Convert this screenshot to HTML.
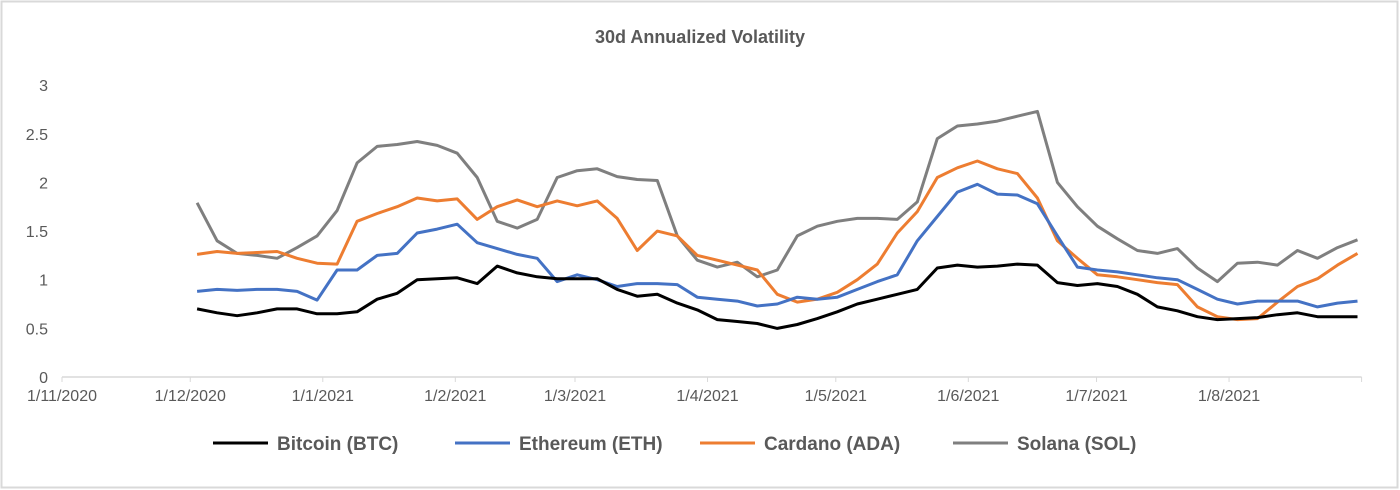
<!DOCTYPE html>
<html><head><meta charset="utf-8"><style>
html,body{margin:0;padding:0;background:#fff;}
svg{display:block;font-family:"Liberation Sans",Arial,sans-serif;}
</style></head><body>
<svg id="chart" width="1400" height="490" viewBox="0 0 1400 490">
<rect x="1.5" y="1.5" width="1396" height="486" fill="#fff" stroke="#d9d9d9" stroke-width="2"/>
<text x="700" y="43" text-anchor="middle" font-size="18" font-weight="bold" fill="#595959">30d Annualized Volatility</text>
<g id="yaxis"></g>
<g id="xaxis"></g>
<g id="series"></g>
<g id="legend"></g>
</svg>
<script>
const yTicks = [0, 0.5, 1, 1.5, 2, 2.5, 3];
const yTickLabels = ["0", "0.5", "1", "1.5", "2", "2.5", "3"];
const xTickDays = [0, 30, 61, 92, 120, 151, 181, 212, 242, 273, 304];
const xTickLabels = ["1/11/2020", "1/12/2020", "1/1/2021", "1/2/2021", "1/3/2021", "1/4/2021", "1/5/2021", "1/6/2021", "1/7/2021", "1/8/2021", ""];
const startDay = 31.6;
const dayStep = 4.68;
const btc = [.70,.66,.63,.66,.70,.70,.65,.65,.67,.80,.86,1.00,1.01,1.02,.96,1.14,1.07,1.03,
 1.01,1.01,1.01,.90,.83,.85,.76,.69,.59,.57,.55,.50,.54,.60,.67,.75,.80,.85,.90,1.12,1.15,
 1.13,1.14,1.16,1.15,.97,.94,.96,.93,.85,.72,.68,.62,.59,.60,.61,.64,.66,.62,.62,.62];
const eth = [.88,.90,.89,.90,.90,.88,.79,1.10,1.10,1.25,1.27,1.48,1.52,1.57,1.38,1.32,1.26,1.22,
 .98,1.05,1.00,.93,.96,.96,.95,.82,.80,.78,.73,.75,.82,.80,.82,.90,.98,1.05,1.40,1.65,1.90,
 1.98,1.88,1.87,1.78,1.45,1.13,1.10,1.08,1.05,1.02,1.00,.90,.80,.75,.78,.78,.78,.72,.76,.78];
const ada = [1.26,1.29,1.27,1.28,1.29,1.22,1.17,1.16,1.60,1.68,1.75,1.84,1.81,1.83,1.62,1.75,1.82,1.75,
 1.81,1.76,1.81,1.63,1.30,1.50,1.45,1.25,1.20,1.15,1.10,.85,.77,.80,.87,1.00,1.16,1.48,1.70,2.05,2.15,
 2.22,2.14,2.09,1.84,1.40,1.22,1.05,1.03,1.00,.97,.95,.72,.62,.59,.60,.77,.93,1.01,1.15,1.27];
const sol = [1.79,1.40,1.27,1.25,1.22,1.33,1.45,1.71,2.20,2.37,2.39,2.42,2.38,2.30,2.05,1.60,1.53,1.62,
 2.05,2.12,2.14,2.06,2.03,2.02,1.45,1.20,1.13,1.18,1.03,1.10,1.45,1.55,1.60,1.63,1.63,1.62,1.80,2.45,2.58,
 2.60,2.63,2.68,2.73,2.00,1.75,1.55,1.42,1.30,1.27,1.32,1.12,.98,1.17,1.18,1.15,1.30,1.22,1.33,1.41];
const seriesNames = ["Bitcoin (BTC)", "Ethereum (ETH)", "Cardano (ADA)", "Solana (SOL)"];

const NS = "http://www.w3.org/2000/svg";
const X0 = 62, PX_PER_DAY = 4.275, Y0 = 377, PX_PER_UNIT = 97.3;
function xScale(d){ return X0 + d * PX_PER_DAY; }
function yScale(v){ return Y0 - v * PX_PER_UNIT; }
function mk(tag, attrs, parent){ const e = document.createElementNS(NS, tag); for (const k in attrs) e.setAttribute(k, attrs[k]); parent.appendChild(e); return e; }

const yaxis = document.getElementById('yaxis');
yTicks.forEach((v, i) => {
  const t = mk('text', {x: 48, y: yScale(v) + 6, 'text-anchor': 'end', 'font-size': 16, fill: '#595959'}, yaxis);
  t.textContent = yTickLabels[i];
  
  
});
const xaxis = document.getElementById('xaxis');
const axl = mk('line', {x1: xScale(xTickDays[0]), x2: xScale(xTickDays[xTickDays.length-1]), y1: Y0, y2: Y0, stroke: '#d9d9d9', 'stroke-width': 1.5}, xaxis);


xTickDays.forEach((d, i) => {
  const tk = mk('line', {x1: xScale(d), x2: xScale(d), y1: Y0, y2: Y0 + 5, stroke: '#d9d9d9', 'stroke-width': 1}, xaxis);
  
  
  if (xTickLabels[i]) {
    const t = mk('text', {x: xScale(d), y: 401, 'text-anchor': 'middle', 'font-size': 16, fill: '#595959'}, xaxis);
    t.textContent = xTickLabels[i];
    
    
  }
});

const data = [btc, eth, ada, sol];
const colors = ["#000000", "#4472c4", "#ed7d31", "#7f7f7f"];
const lineNames = ["btc-line", "eth-line", "ada-line", "sol-line"];
const sg = document.getElementById('series');
[3, 2, 1, 0].forEach(si => {
  const pts = data[si].map((v, i) => xScale(startDay + i * dayStep).toFixed(1) + ',' + yScale(v).toFixed(1)).join(' ');
  const pl = mk('polyline', {points: pts, fill: 'none', stroke: colors[si], 'stroke-width': 3, 'stroke-linejoin': 'round'}, sg);
  
  
});

const lg = document.getElementById('legend');
const legX = [213, 455, 700, 953];
seriesNames.forEach((n, i) => {
  const l = mk('line', {x1: legX[i], x2: legX[i] + 55, y1: 443, y2: 443, stroke: colors[i], 'stroke-width': 3}, lg);
  
  
  const t = mk('text', {x: legX[i] + 64, y: 450, 'font-size': 19, 'font-weight': 'bold', fill: '#595959'}, lg);
  t.textContent = n;
  
  
});
</script>
</body></html>
